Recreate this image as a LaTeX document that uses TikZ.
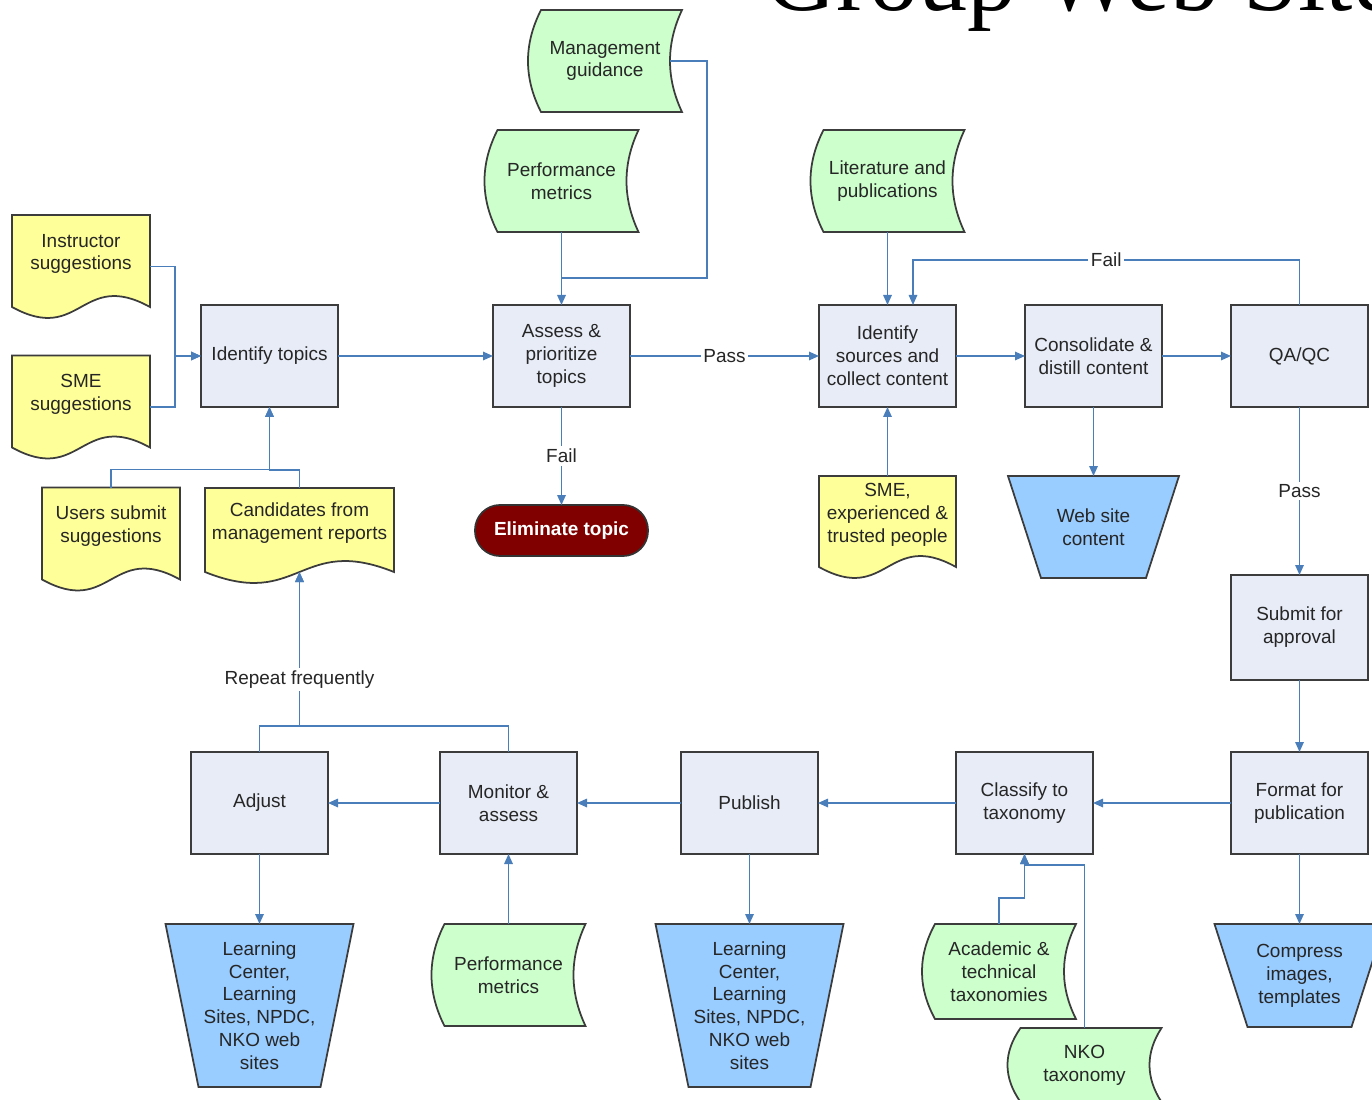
\documentclass[tikz,border=0pt]{standalone}
\usepackage{fontspec}
\setsansfont{Liberation Sans}
\newfontfamily\titlefont{Liberation Serif}
\usepackage{tikz}
\usetikzlibrary{arrows.meta, positioning, backgrounds, calc}
\definecolor{procfill}{HTML}{E7ECF7}
\definecolor{outline}{HTML}{3C3C3C}
\definecolor{docyellow}{HTML}{FFFF99}
\definecolor{storegreen}{HTML}{CCFFCC}
\definecolor{siteblue}{HTML}{99CCFF}
\definecolor{flowblue}{HTML}{4A7EBB}
\definecolor{elimred}{HTML}{800000}

\begin{document}
\begin{tikzpicture}[
    font=\sffamily\fontsize{10.8pt}{13pt}\selectfont, text=black!85,
    proc/.style={draw=outline, fill=procfill, line width=1pt, minimum width=2.74cm, minimum height=2.04cm, align=center, inner sep=2pt, outer sep=0pt},
    doc/.style={minimum width=2.76cm, minimum height=2.06cm, inner sep=0pt, outer sep=0pt, label={[align=center, yshift=0.25cm]center:#1}},
    store/.style={minimum width=3.08cm, minimum height=2.04cm, align=center, inner sep=2pt, outer sep=0pt},
    site/.style={minimum width=3.76cm, minimum height=3.26cm, align=center, inner sep=2pt, outer sep=0pt},
    shapeline/.style={draw=outline, line width=1pt},
    conn/.style={draw=flowblue, line width=0.9pt, -{Triangle[length=0.2cm, width=0.17cm]}},
    connline/.style={draw=flowblue, line width=0.9pt},
    lbl/.style={fill=white, inner sep=1.5pt}
]
    \useasboundingbox (0,0) rectangle (27.44,-22);

    % Title, runs off the page
    \node[font=\titlefont\fontsize{56pt}{60pt}\selectfont, text=black, anchor=base west, inner sep=0pt] (title) at (15.3,-0.22) {Group Web Site};

    % Suggestion documents
    \node[doc={Instructor\\suggestions}] (instr) at (1.62,-5.33) {};
    \node[doc={SME\\suggestions}] (smes) at (1.62,-8.14) {};
    \node[doc={Users submit\\suggestions}] (users) at (2.22,-10.78) {};
    \node[doc={Candidates from\\management reports}, minimum width=3.78cm, minimum height=1.9cm] (cand) at (5.99,-10.71) {};

    % Top row
    \node[proc] (ident) at (5.39,-7.12) {Identify topics};
    \node[proc, right=3.1cm of ident] (assess) {Assess \&\\prioritize\\topics};
    \node[proc, right=3.78cm of assess] (src) {Identify\\sources and\\collect content};
    \node[proc, right=1.38cm of src] (cons) {Consolidate \&\\distill content};
    \node[proc, right=1.38cm of cons] (qa) {QA/QC};

    % Stored inputs above the top row
    \node[store, above=1.46cm of assess] (perfA) {Performance\\metrics};
    \node[store] (mgmt) at (12.1,-1.22) {Management\\guidance};
    \node[store, above=1.46cm of src] (lit) {Literature and\\publications};

    \node[fill=elimred, draw=black!80, line width=1pt, outer sep=0pt, rounded corners=0.5cm, minimum width=3.46cm, minimum height=1.02cm,
        text=white, font=\sffamily\bfseries\fontsize{10.8pt}{13pt}\selectfont, below=1.96cm of assess] (elim) {Eliminate topic};
    \node[doc={SME,\\experienced \&\\trusted people}, minimum width=2.74cm, minimum height=2.04cm, below=1.38cm of src] (smex) {};
    \node[site, minimum width=3.42cm, minimum height=2.04cm, below=1.38cm of cons] (web) {Web site\\content};

    % Right column
    \node[proc, minimum height=2.1cm, below=3.36cm of qa] (submit) {Submit for\\approval};
    \node[proc, below=1.44cm of submit] (format) {Format for\\publication};

    % Bottom row, right to left
    \node[proc, left=2.76cm of format] (classify) {Classify to\\taxonomy};
    \node[proc, left=2.76cm of classify] (publish) {Publish};
    \node[proc, left=2.08cm of publish] (monitor) {Monitor \&\\assess};
    \node[proc, left=2.24cm of monitor] (adjust) {Adjust};

    % Under the bottom row
    \node[site, below=1.4cm of adjust] (lcA) {Learning\\Center,\\Learning\\Sites, NPDC,\\NKO web\\sites};
    \node[store, below=1.4cm of monitor] (perfB) {Performance\\metrics};
    \node[site, below=1.4cm of publish] (lcB) {Learning\\Center,\\Learning\\Sites, NPDC,\\NKO web\\sites};
    \node[store, minimum height=1.9cm, below=1.4cm of classify, xshift=-0.51cm] (acad) {Academic \&\\technical\\taxonomies};
    \node[store, minimum height=1.48cm, below=3.48cm of classify, xshift=1.2cm] (nko) {NKO\\taxonomy};
    \node[site, minimum width=3.4cm, minimum height=2.06cm, below=1.4cm of format] (compress) {Compress\\images,\\templates};

    % Outlines behind the text
    \begin{scope}[on background layer]
        \foreach \n in {instr,smes,users,cand,smex}
            \filldraw[shapeline, fill=docyellow] (\n.north west) -- (\n.north east) -- ([yshift=0.22cm]\n.south east)
                .. controls ([yshift=0.98cm]\n.south) and ([yshift=-0.54cm]\n.south) .. ([yshift=0.22cm]\n.south west) -- cycle;
        \foreach \n in {mgmt,perfA,lit,perfB,acad,nko}
            \filldraw[shapeline, fill=storegreen] ([xshift=0.26cm]\n.north west) -- (\n.north east)
                .. controls ($(\n.north east)!0.333!(\n.south east)+(-0.32,0)$) and ($(\n.south east)!0.333!(\n.north east)+(-0.32,0)$) .. (\n.south east)
                -- ([xshift=0.26cm]\n.south west)
                .. controls ($(\n.south west)!0.333!(\n.north west)+(-0.087,0)$) and ($(\n.north west)!0.333!(\n.south west)+(-0.087,0)$) .. ([xshift=0.26cm]\n.north west) -- cycle;
        \foreach \n in {web,lcA,lcB,compress}
            \filldraw[shapeline, fill=siteblue] (\n.north west) -- (\n.north east)
                -- ([xshift=-0.66cm]\n.south east) -- ([xshift=0.66cm]\n.south west) -- cycle;
    \end{scope}

    % Collecting topics
    \draw[conn] (instr.east) -- ++(0.5,0) |- (ident.west);
    \draw[conn] (smes.east) -- ++(0.5,0) |- (ident.west);
    \draw[conn] (users.north) -- ++(0,0.36) -| (ident.south);
    \draw[conn] (cand.north) -- ++(0,0.36) -| (ident.south);
    \draw[conn] (ident) -- (assess);
    \draw[conn] (perfA) -- (assess);
    \draw[connline] ([xshift=-0.24cm]mgmt.east) -- ++(0.74,0) |- ([yshift=0.54cm]assess.north);
    \draw[conn] (assess) -- node[lbl] {Pass} (src);
    \draw[conn] (assess) -- node[lbl] {Fail} (elim);

    % Content
    \draw[conn] (lit) -- (src);
    \draw[conn] (smex) -- (src);
    \draw[conn] (src) -- (cons);
    \draw[conn] (cons) -- (qa);
    \draw[conn] (cons) -- (web);
    \draw[conn] (qa.north) -- ++(0,0.9) -| node[pos=0.25, lbl] {Fail} ([xshift=0.51cm]src.north);
    \draw[conn] (qa) -- node[lbl] {Pass} (submit);

    % Publishing
    \draw[conn] (submit) -- (format);
    \draw[conn] (format) -- (compress);
    \draw[conn] (format) -- (classify);
    \draw[conn] (classify) -- (publish);
    \draw[conn] (publish) -- (monitor);
    \draw[conn] (monitor) -- (adjust);
    \draw[conn] (publish) -- (lcB);
    \draw[conn] (adjust) -- (lcA);
    \draw[conn] (perfB) -- (monitor);
    \draw[conn] (acad.north) -- ++(0,0.52) -| (classify.south);
    \draw[conn] (nko.north) -- ++(0,3.26) -| (classify.south);

    % Feedback loop
    \draw[conn] (monitor.north) -- ++(0,0.52) -| ([yshift=0.22cm]cand.south);
    \draw[conn] (adjust.north) -- ++(0,0.52) -| node[pos=0.65, lbl] {Repeat frequently} ([yshift=0.22cm]cand.south);
\end{tikzpicture}
\end{document}
